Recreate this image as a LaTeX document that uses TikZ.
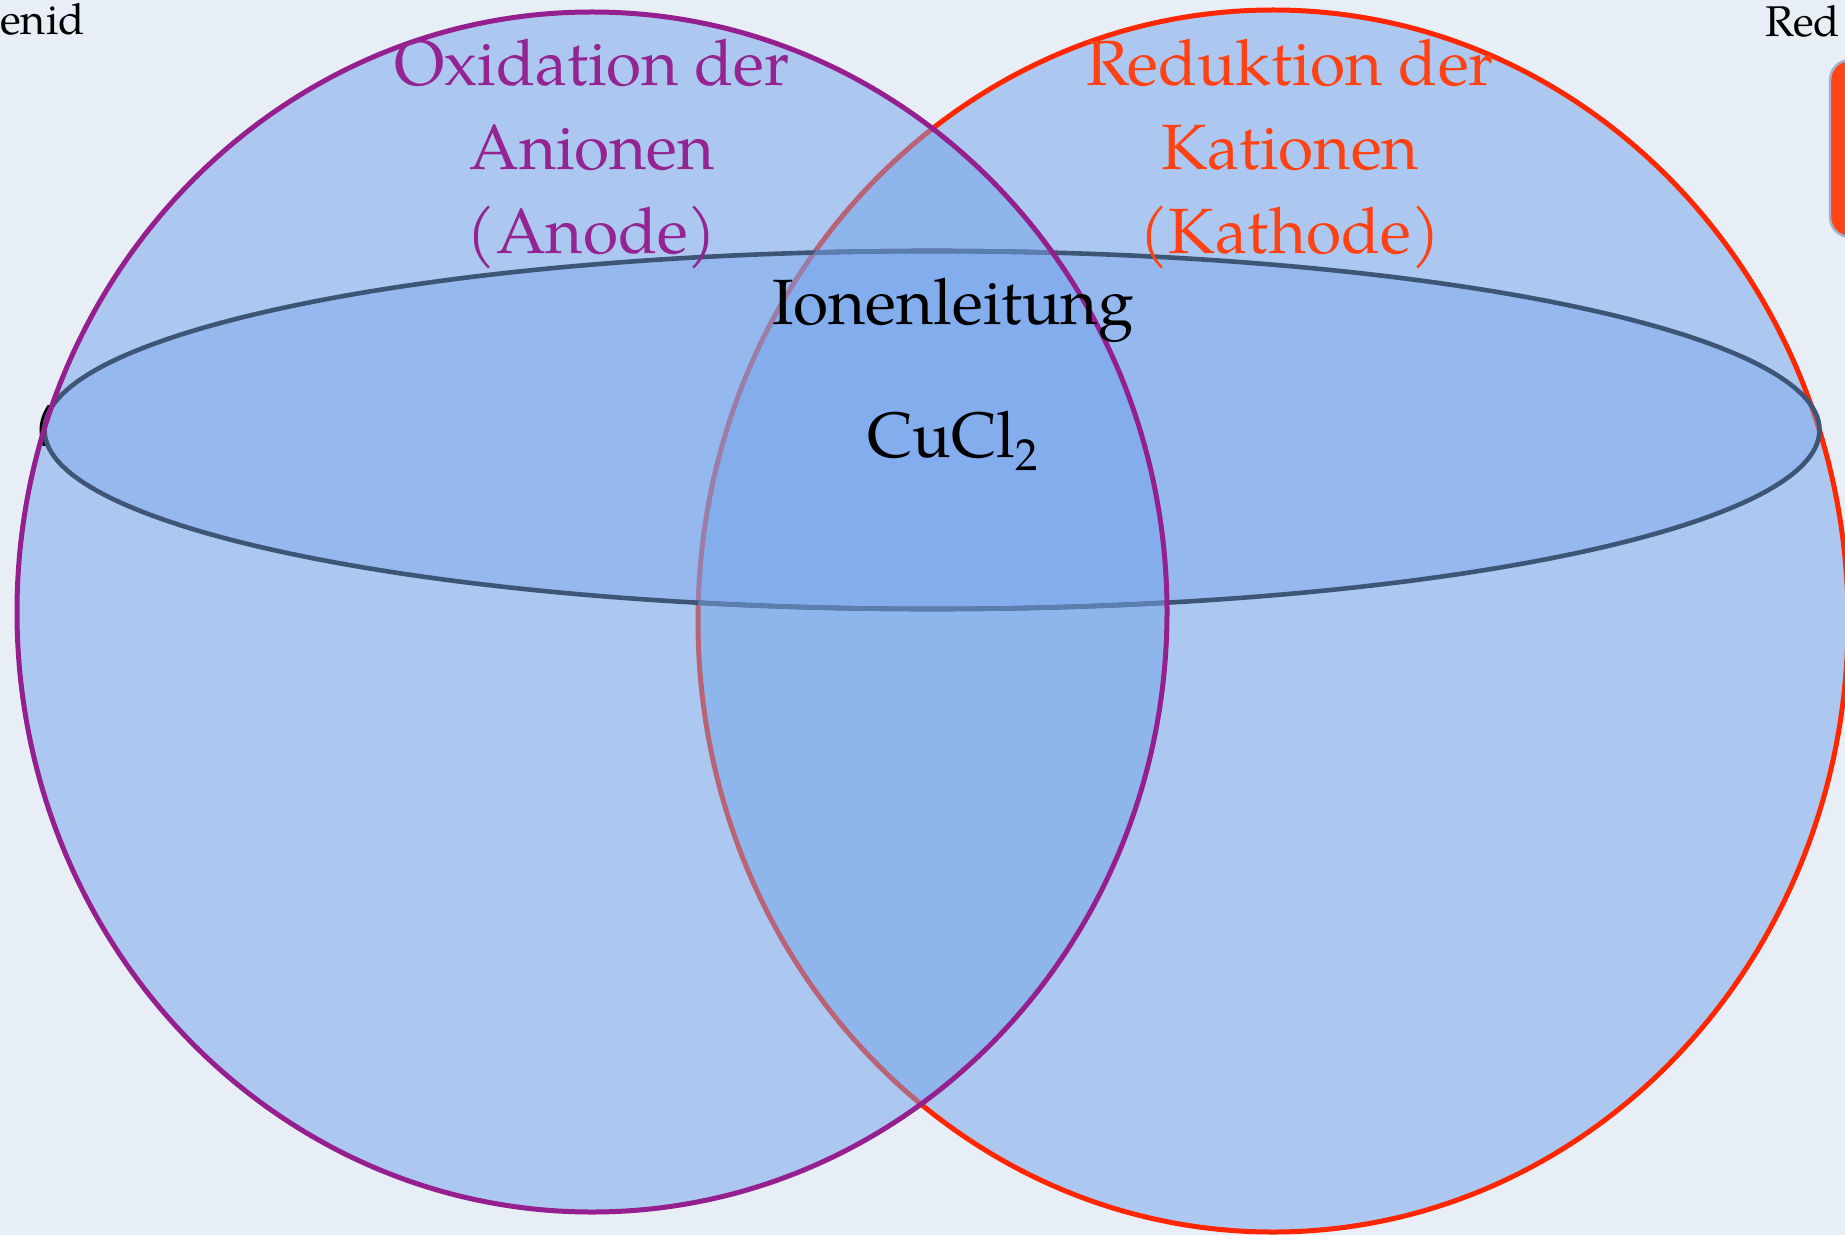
\documentclass[tikz,border=0pt]{standalone}
\usepackage{fontspec}
\setmainfont{TeX Gyre Pagella}
\begin{document}
\begin{tikzpicture}[x=0.5pt,y=-0.5pt,
  bigtxt/.style={font=\fontsize{32}{42}\selectfont, inner sep=0pt, anchor=base},
  smalltxt/.style={font=\fontsize{21.5}{26}\selectfont, inner sep=0pt},
  circfill/.style={fill=cfill, fill opacity=0.5},
  elfill/.style={fill=cfill, fill opacity=0.4}]
\definecolor{bg}{RGB}{232,238,246}
\definecolor{cfill}{RGB}{115,163,236}
\definecolor{purp}{RGB}{149,31,143}
\definecolor{purptxt}{RGB}{148,36,145}
\definecolor{redline}{RGB}{255,38,0}
\definecolor{redtxt}{RGB}{255,66,20}
\definecolor{elline}{RGB}{62,85,118}
\definecolor{ellight}{RGB}{92,126,175}
\definecolor{boxred}{RGB}{255,69,21}
\definecolor{boxedge}{RGB}{160,178,208}

\useasboundingbox (0,0) rectangle (1845,1235);
\fill[bg] (0,0) rectangle (1845,1235);

\coordinate (P) at (592,612);
\coordinate (R) at (1273,621);
\coordinate (E) at (932,430);

% red circle
\fill[circfill] (R) ellipse [x radius=287.5pt, y radius=305.5pt];
\draw[redline, line width=2.5pt] (R) ellipse [x radius=287.5pt, y radius=305.5pt];
% purple circle fill
\fill[circfill] (P) ellipse [x radius=287.5pt, y radius=300pt];

% small black sliver at the ellipse tip
\begin{scope}
  \clip (30,405) rectangle (60,445);
  \draw[black, line width=2pt] ([xshift=-1.5pt]E) ellipse [x radius=443.75pt, y radius=89.5pt];
\end{scope}

% ellipse
\fill[elfill] (E) ellipse [x radius=443.75pt, y radius=89.5pt];
\draw[elline, line width=2.3pt] (E) ellipse [x radius=443.75pt, y radius=89.5pt];
% lighter stroke inside the lens
\begin{scope}
  \clip (P) ellipse [x radius=287.5pt, y radius=300pt];
  \clip (R) ellipse [x radius=287.5pt, y radius=305.5pt];
  \draw[ellight, line width=2.3pt] (E) ellipse [x radius=443.75pt, y radius=89.5pt];
\end{scope}

% purple stroke
\draw[purp, line width=2.5pt] (P) ellipse [x radius=287.5pt, y radius=300pt];

% red rounded box at right edge
\draw[boxedge, fill=boxred, line width=1.2pt, rounded corners=10pt] (1830,60) rectangle (1900,237);

% labels
\node[bigtxt, text=purptxt] (ox1) at (592,86) {Oxidation der};
\node[bigtxt, text=purptxt] (ox2) at (592,170) {Anionen};
\node[bigtxt, text=purptxt] (ox3) at (592,254) {(Anode)};
\node[bigtxt, text=redtxt] (re1) at (1290,86) {Reduktion der};
\node[bigtxt, text=redtxt] (re2) at (1290,170) {Kationen};
\node[bigtxt, text=redtxt] (re3) at (1290,254) {(Kathode)};
\node[bigtxt] (ion) at (953,325) {Ionenleitung};
\node[bigtxt] (cucl) at (953,457) {CuCl\textsubscript{2}};

\node[smalltxt, anchor=base west] (enid) at (0,35) {enid};
\node[smalltxt, anchor=base west] (red) at (1765,37) {Red};
\end{tikzpicture}
\end{document}
